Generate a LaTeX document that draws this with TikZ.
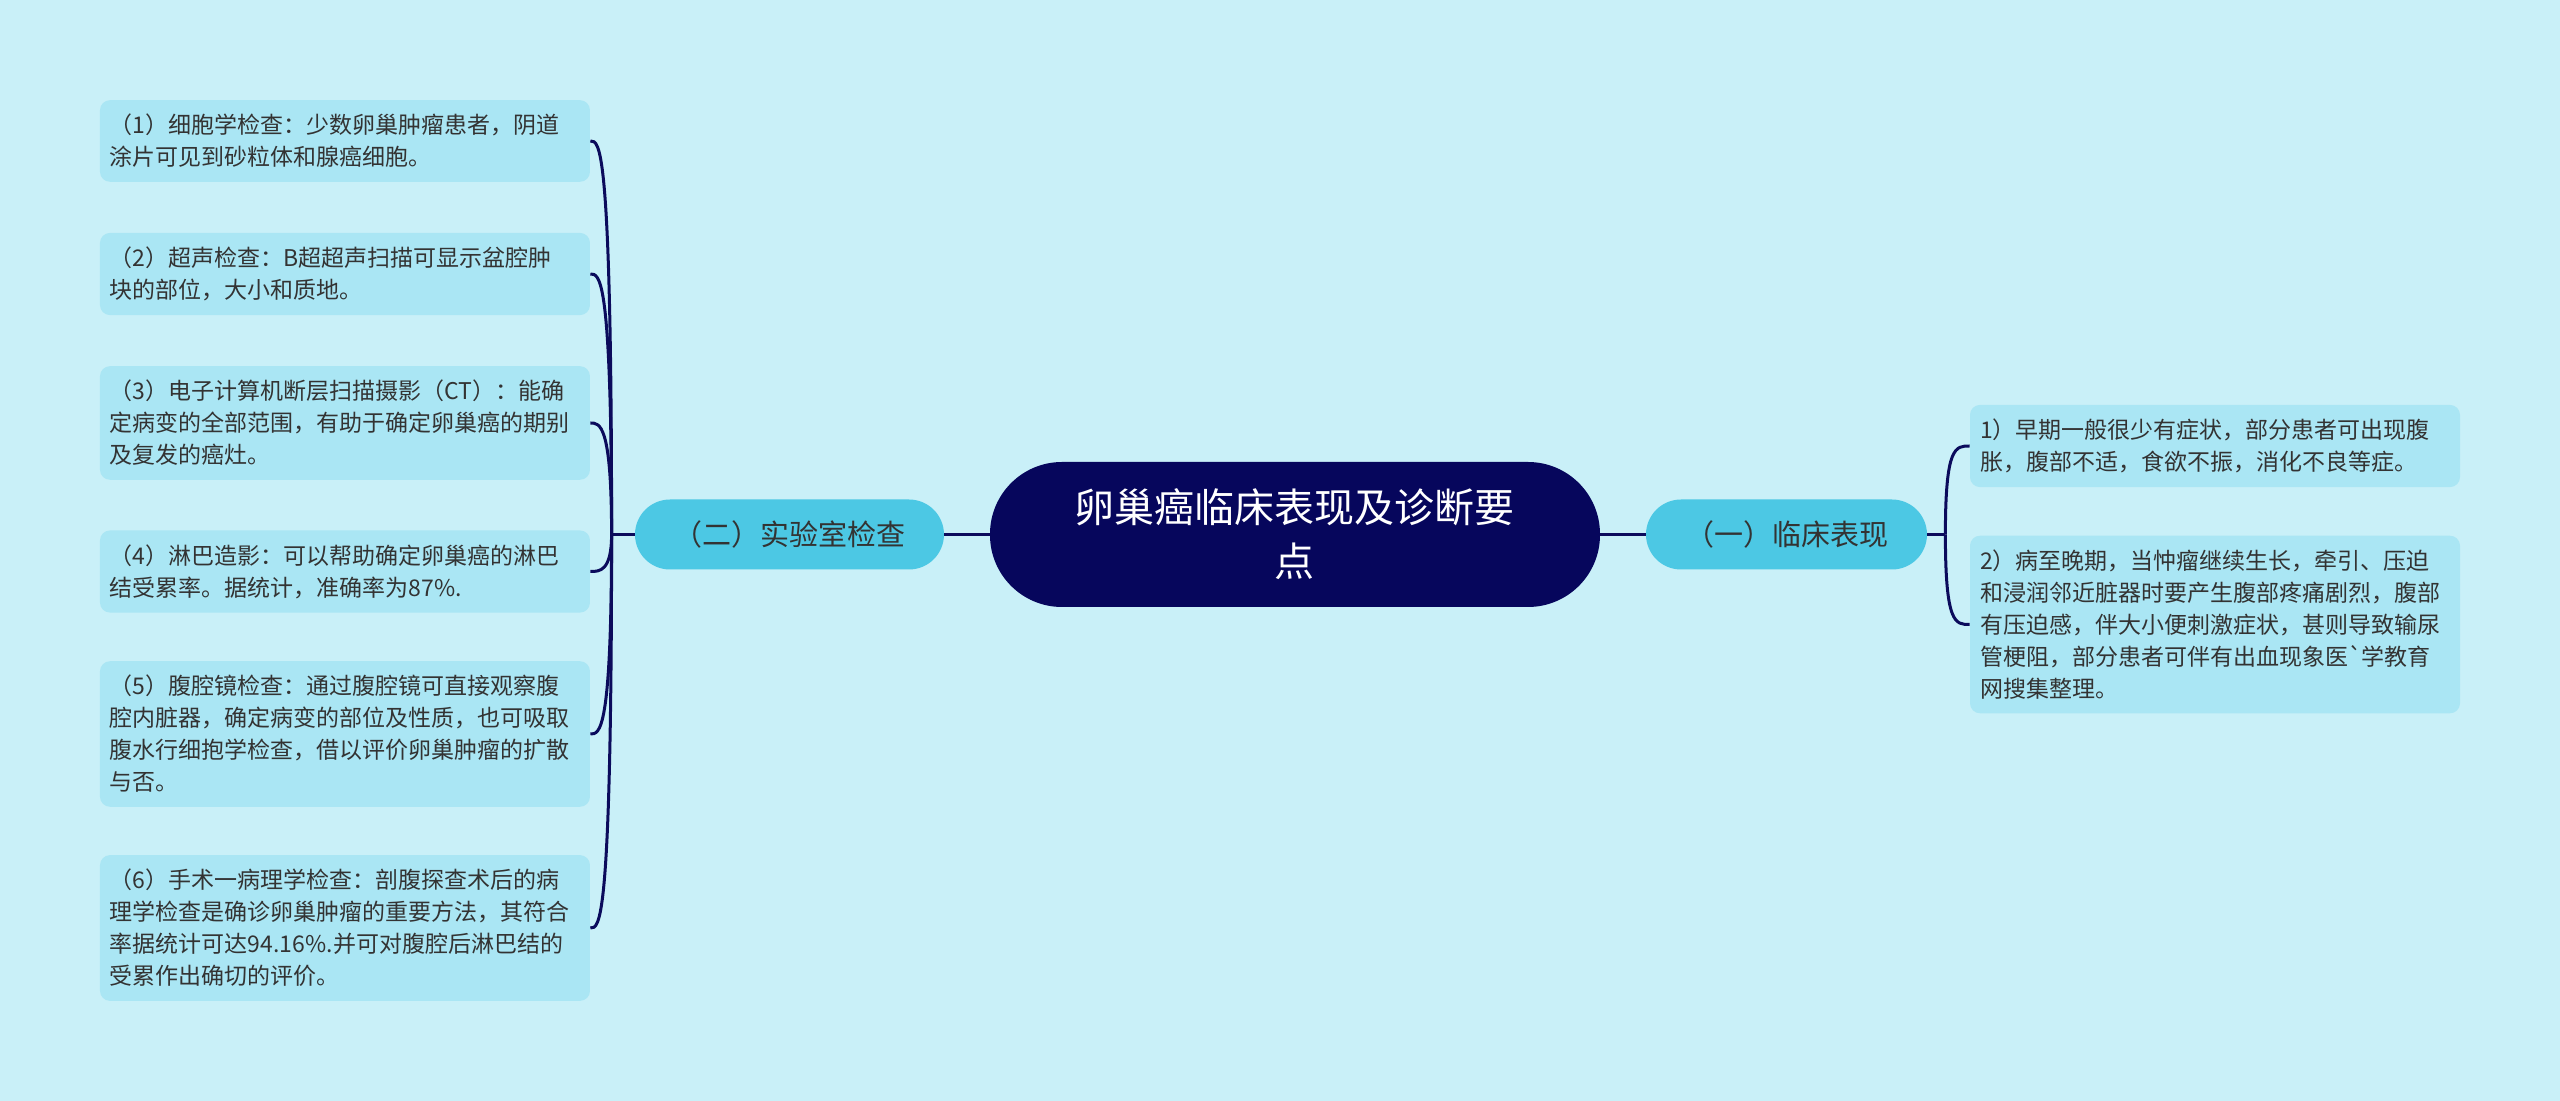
\documentclass[tikz,border=0pt]{standalone}
\usepackage{fontspec}
\setmainfont{Noto Sans CJK SC}
\usetikzlibrary{positioning}
\definecolor{bgc}{HTML}{C9F0F8}
\definecolor{leafc}{HTML}{AAE6F4}
\definecolor{branchc}{HTML}{4CC8E4}
\definecolor{rootc}{HTML}{06065C}
\definecolor{linec}{HTML}{0B0B5C}
\definecolor{txtc}{HTML}{333333}

\begin{document}
\begin{tikzpicture}[on grid,
  root/.style={fill=rootc,text=white,rounded corners=36pt,minimum width=305pt,
    minimum height=72.5pt,align=center,font=\fontsize{20pt}{27pt}\selectfont},
  branch/.style={fill=branchc,text=txtc,rounded corners=17.5pt,minimum height=35pt,
    font=\fontsize{14.5pt}{18pt}\selectfont},
  leaf/.style={fill=leafc,text=txtc,rounded corners=5pt,text width=235pt,inner xsep=5pt,
    inner ysep=7pt,align=left,font=\fontsize{11.5pt}{16pt}\selectfont}]
  \fill[bgc] (-647.5pt,-283.25pt) rectangle (632.5pt,267.25pt);
  \node[root]   (C)                               {卵巢癌临床表现及诊断要\\点};
  \node[branch,minimum width=154.5pt] (L) [left=252.75pt of C]  {（二）实验室检查};
  \node[branch,minimum width=140.5pt] (R) [right=245.75pt of C] {（一）临床表现};
  % left leaves
  \node[leaf]   (L1) [above left=196.75pt and 222.25pt of L] {（1）细胞学检查：少数卵巢肿瘤患者，阴道\\涂片可见到砂粒体和腺癌细胞。};
  \node[leaf]   (L2) [above left=130.25pt and 222.25pt of L] {（2）超声检查：B超超声扫描可显示盆腔肿\\块的部位，大小和质地。};
  \node[leaf]   (L3) [above left=55.75pt and 222.25pt of L]  {（3）电子计算机断层扫描摄影（CT）：能确\\定病变的全部范围，有助于确定卵巢癌的期别\\及复发的癌灶。};
  \node[leaf]   (L4) [below left=18.5pt and 222.25pt of L]   {（4）淋巴造影：可以帮助确定卵巢癌的淋巴\\结受累率。据统计，准确率为87\%.};
  \node[leaf]   (L5) [below left=99.75pt and 222.25pt of L]  {（5）腹腔镜检查：通过腹腔镜可直接观察腹\\腔内脏器，确定病变的部位及性质，也可吸取\\腹水行细抱学检查，借以评价卵巢肿瘤的扩散\\与否。};
  \node[leaf]   (L6) [below left=196.75pt and 222.25pt of L] {（6）手术一病理学检查：剖腹探查术后的病\\理学检查是确诊卵巢肿瘤的重要方法，其符合\\率据统计可达94.16\%.并可对腹腔后淋巴结的\\受累作出确切的评价。};
  % right leaves
  \node[leaf]   (R1) [above right=44.25pt and 214.25pt of R] {1）早期一般很少有症状，部分患者可出现腹\\胀，腹部不适，食欲不振，消化不良等症。};
  \node[leaf]   (R2) [below right=45pt and 214.25pt of R]    {2）病至晚期，当忡瘤继续生长，牵引、压迫\\和浸润邻近脏器时要产生腹部疼痛剧烈，腹部\\有压迫感，伴大小便刺激症状，甚则导致输尿\\管梗阻，部分患者可伴有出血现象医\textasciigrave 学教育\\网搜集整理。};
  \coordinate[left=11.5pt of L.west]  (JL);
  \coordinate[left=6pt of JL]         (JLa);
  \coordinate[right=9pt of R.east]    (JR);
  \coordinate[right=5pt of JR]        (JRa);
\tikzset{link/.style={draw=linec,line width=1.5pt}}
\path (C)     edge [link]  (L)
      (C)     edge [link]  (R)
      (L)     edge [link]  (JL)
      (R)     edge [link]  (JR);
  \draw[link] (JL) .. controls (JL |- L1.east) and (JLa |- L1.east) .. (L1.east);
  \draw[link] (JL) .. controls (JL |- L2.east) and (JLa |- L2.east) .. (L2.east);
  \draw[link] (JL) .. controls (JL |- L3.east) and (JLa |- L3.east) .. (L3.east);
  \draw[link] (JL) .. controls (JL |- L4.east) and (JLa |- L4.east) .. (L4.east);
  \draw[link] (JL) .. controls (JL |- L5.east) and (JLa |- L5.east) .. (L5.east);
  \draw[link] (JL) .. controls (JL |- L6.east) and (JLa |- L6.east) .. (L6.east);
  \draw[link] (JR) .. controls (JR |- R1.west) and (JRa |- R1.west) .. (R1.west);
  \draw[link] (JR) .. controls (JR |- R2.west) and (JRa |- R2.west) .. (R2.west);
\end{tikzpicture}
\end{document}
